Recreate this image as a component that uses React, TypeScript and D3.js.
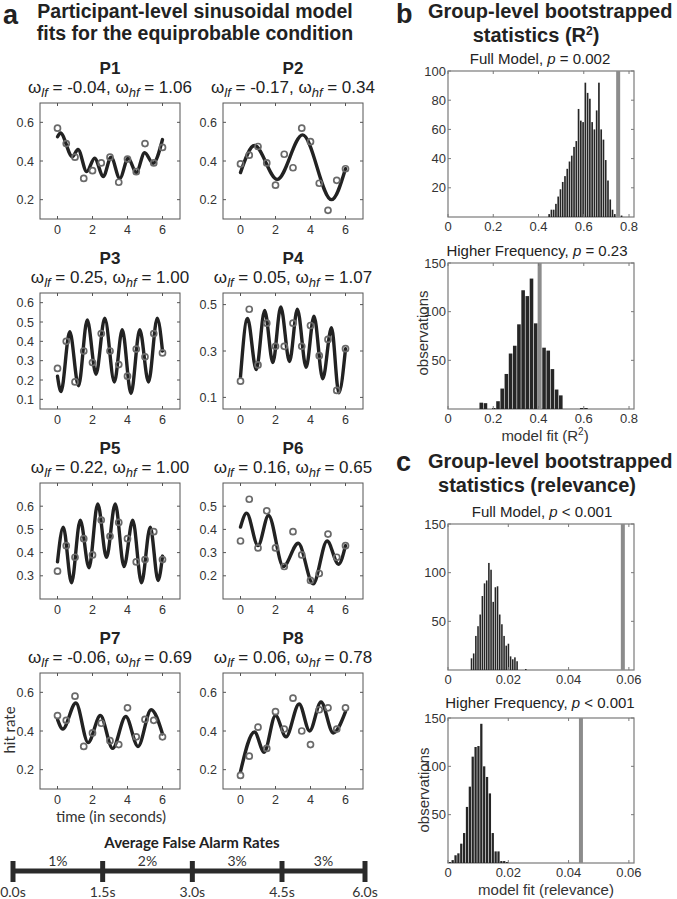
import React from 'react';
import * as d3 from 'd3';

// ---------- data: participant panels ----------
const TIMES = [0, 0.5, 1, 1.5, 2, 2.5, 3, 3.5, 4, 4.5, 5, 5.5, 6];
const X_TICKS = [0, 2, 4, 6];

const P1_HIT = [0.57, 0.49, 0.42, 0.31, 0.35, 0.39, 0.42, 0.29, 0.41, 0.345, 0.49, 0.39, 0.47];
const P1_FIT_T = [0, 0.17, 0.85, 1.17, 1.67, 2.12, 2.62, 3.06, 3.56, 4.04, 4.5, 4.98, 5.46, 6.0];
const P1_FIT_V = [0.525, 0.545, 0.422, 0.46, 0.345, 0.414, 0.32, 0.42, 0.31, 0.414, 0.34, 0.443, 0.388, 0.511];

const P2_HIT = [0.385, 0.43, 0.475, 0.39, 0.275, 0.435, 0.365, 0.57, 0.5, 0.285, 0.145, 0.3, 0.36];
const P2_FIT_T = [0, 0.8, 2.1, 3.55, 5.2, 6.0];
const P2_FIT_V = [0.34, 0.48, 0.305, 0.535, 0.2, 0.36];

const P3_HIT = [0.26, 0.4, 0.19, 0.35, 0.29, 0.44, 0.35, 0.28, 0.22, 0.36, 0.32, 0.44, 0.34];
const P3_FIT_T = [0, 0.2, 0.7, 1.2, 1.7, 2.2, 2.7, 3.25, 3.7, 4.2, 4.7, 5.2, 5.7, 6.0];
const P3_FIT_V = [0.22, 0.14, 0.45, 0.17, 0.51, 0.23, 0.52, 0.19, 0.46, 0.13, 0.46, 0.19, 0.52, 0.35];

const P4_HIT = [0.17, 0.48, 0.24, 0.42, 0.32, 0.32, 0.42, 0.32, 0.41, 0.28, 0.35, 0.13, 0.31];
const P4_FIT_T = [0, 0.4, 0.9, 1.38, 1.85, 2.3, 2.8, 3.25, 3.75, 4.2, 4.7, 5.2, 5.62, 6.0];
const P4_FIT_V = [0.19, 0.44, 0.22, 0.475, 0.25, 0.49, 0.255, 0.48, 0.23, 0.45, 0.18, 0.4, 0.12, 0.31];

const P5_HIT = [0.32, 0.43, 0.38, 0.46, 0.39, 0.54, 0.47, 0.53, 0.46, 0.36, 0.37, 0.49, 0.37];
const P5_FIT_T = [0, 0.33, 0.8, 1.3, 1.8, 2.3, 2.8, 3.3, 3.8, 4.3, 4.8, 5.3, 5.75, 6.0];
const P5_FIT_V = [0.36, 0.51, 0.27, 0.54, 0.335, 0.61, 0.38, 0.61, 0.34, 0.54, 0.27, 0.51, 0.28, 0.385];

const P6_HIT = [0.35, 0.53, 0.32, 0.48, 0.32, 0.24, 0.39, 0.29, 0.18, 0.21, 0.38, 0.28, 0.33];
const P6_FIT_T = [0, 0.35, 1.0, 1.6, 2.45, 3.3, 4.15, 4.95, 5.6, 6.0];
const P6_FIT_V = [0.41, 0.47, 0.33, 0.46, 0.24, 0.34, 0.165, 0.35, 0.25, 0.33];

const P7_HIT = [0.48, 0.455, 0.58, 0.32, 0.39, 0.44, 0.35, 0.33, 0.52, 0.37, 0.46, 0.455, 0.37];
const P7_FIT_T = [0, 0.3, 1.05, 1.75, 2.45, 3.15, 3.9, 4.6, 5.35, 6.0];
const P7_FIT_V = [0.46, 0.41, 0.545, 0.34, 0.48, 0.31, 0.475, 0.32, 0.51, 0.385];

const P8_HIT = [0.17, 0.27, 0.42, 0.31, 0.5, 0.41, 0.57, 0.4, 0.33, 0.51, 0.52, 0.41, 0.52];
const P8_FIT_T = [0, 0.8, 1.35, 2.0, 2.6, 3.35, 3.95, 4.6, 5.3, 6.0];
const P8_FIT_V = [0.19, 0.395, 0.29, 0.48, 0.37, 0.54, 0.4, 0.55, 0.39, 0.5];

const P_NAMES = ['P1', 'P2', 'P3', 'P4', 'P5', 'P6', 'P7', 'P8'];
const W_LF = ['-0.04', '-0.17', '0.25', '0.05', '0.22', '0.16', '-0.06', '0.06'];
const W_HF = ['1.06', '0.34', '1.00', '1.07', '1.00', '0.65', '0.69', '0.78'];
const Y_DOMAINS = [[0.1, 0.7], [0.1, 0.7], [0.05, 0.65], [0.05, 0.55], [0.2, 0.7], [0.1, 0.6], [0.1, 0.7], [0.1, 0.7]];
const Y_TICKS = [
  [0.2, 0.4, 0.6], [0.2, 0.4, 0.6], [0.1, 0.2, 0.3, 0.4, 0.5, 0.6], [0.1, 0.3, 0.5],
  [0.3, 0.4, 0.5, 0.6], [0.2, 0.3, 0.4, 0.5], [0.2, 0.4, 0.6], [0.2, 0.4, 0.6],
];
const HITS = [P1_HIT, P2_HIT, P3_HIT, P4_HIT, P5_HIT, P6_HIT, P7_HIT, P8_HIT];
const FIT_T = [P1_FIT_T, P2_FIT_T, P3_FIT_T, P4_FIT_T, P5_FIT_T, P6_FIT_T, P7_FIT_T, P8_FIT_T];
const FIT_V = [P1_FIT_V, P2_FIT_V, P3_FIT_V, P4_FIT_V, P5_FIT_V, P6_FIT_V, P7_FIT_V, P8_FIT_V];

// ---------- data: timeline ----------
const TL_TIMES = [0, 1.5, 3, 4.5, 6];
const TL_LABELS = ['0.0s', '1.5s', '3.0s', '4.5s', '6.0s'];
const FA_RATES = ['1%', '2%', '3%', '3%'];

// ---------- data: histograms ----------
const B_FULL_START = 0.447, B_FULL_STEP = 0.01;
const B_FULL_COUNTS = [2, 5, 5, 9, 14, 19, 24, 28, 33, 38, 42, 48, 52, 74, 66, 65, 92, 85, 81, 65, 60, 73, 92, 60, 53, 39, 25, 12, 5, 2, 0, 0, 1];
const B_FULL_OBS = 0.752;

const B_HF_START = 0.147, B_HF_STEP = 0.0185;
const B_HF_COUNTS = [6.5, 6, 0, 1, 8, 21, 36, 57, 65, 87, 122, 116, 134, 88, 0, 63, 60, 41, 20, 14, 0, 0, 0, 0, 1, 1];
const B_HF_OBS = 0.405;

const C_FULL_START = 0.0078, C_FULL_STEP = 0.00072;
const C_FULL_COUNTS = [12, 17, 35, 45, 57, 76, 89, 92, 110, 103, 70, 85, 86, 57, 47, 35, 25, 27, 14, 11, 13, 9, 0, 0, 0, 1];
const C_FULL_OBS = 0.058;

const C_HF_START = 0.0006, C_HF_STEP = 0.00095;
const C_HF_COUNTS = [1, 3, 8, 10, 20, 31, 58, 79, 110, 120, 121, 144, 100, 89, 72, 31, 12, 12, 2, 2, 1];
const C_HF_OBS = 0.0441;

const B_X_TICKS = [0, 0.2, 0.4, 0.6, 0.8];
const C_X_TICKS = [0, 0.02, 0.04, 0.06];

// ---------- styles ----------
const SANS = "'Liberation Sans', Arial, Helvetica, sans-serif";
const HUM = "Lato, 'Open Sans', sans-serif";
const INK = '#222';

function Participant({ idx }: { idx: number }) {
  const col = idx % 2;
  const row = Math.floor(idx / 2);
  const x0 = col === 0 ? 40 : 223;
  const y0 = 103 + row * 190;
  const w = 140, h = 116;
  const x = d3.scaleLinear().domain([-1, 7]).range([x0, x0 + w]);
  const y = d3.scaleLinear().domain(Y_DOMAINS[idx]).range([y0 + h, y0]);
  const pts: [number, number][] = FIT_T[idx].map((t, i) => [t, FIT_V[idx][i]]);
  const line = d3.line<[number, number]>().x(d => x(d[0])).y(d => y(d[1])).curve(d3.curveMonotoneX);
  const cx = x0 + w / 2;
  const tl = 3;
  return (
    <g>
      <text x={cx} y={y0 - 29} textAnchor="middle" fontFamily={SANS} fontWeight="bold" fontSize={17} fill={INK}>{P_NAMES[idx]}</text>
      <text x={cx} y={y0 - 10} textAnchor="middle" fontFamily={SANS} fontSize={17} fill={INK}>
        ω<tspan fontStyle="italic" fontSize={13} dy={4}>lf</tspan>
        <tspan dy={-4}>{` = ${W_LF[idx]}, ω`}</tspan>
        <tspan fontStyle="italic" fontSize={13} dy={4}>hf</tspan>
        <tspan dy={-4}>{` = ${W_HF[idx]}`}</tspan>
      </text>
      <rect x={x0} y={y0} width={w} height={h} fill="white" stroke="#555" strokeWidth={1} />
      {X_TICKS.map(t => (
        <g key={'xt' + t}>
          <line x1={x(t)} x2={x(t)} y1={y0 + h} y2={y0 + h - tl} stroke="#555" />
          <line x1={x(t)} x2={x(t)} y1={y0} y2={y0 + tl} stroke="#555" />
          <text x={x(t)} y={y0 + h + 15} textAnchor="middle" fontFamily={SANS} fontSize={12.5} fill="#333">{t}</text>
        </g>
      ))}
      {Y_TICKS[idx].map(v => (
        <g key={'yt' + v}>
          <line x1={x0} x2={x0 + tl} y1={y(v)} y2={y(v)} stroke="#555" />
          <line x1={x0 + w} x2={x0 + w - tl} y1={y(v)} y2={y(v)} stroke="#555" />
          <text x={x0 - 6} y={y(v) + 4.5} textAnchor="end" fontFamily={SANS} fontSize={12.5} fill="#333">{v.toFixed(1)}</text>
        </g>
      ))}
      <path d={line(pts) || ''} fill="none" stroke={INK} strokeWidth={3.4} strokeLinecap="round" />
      {HITS[idx].map((v, i) => (
        <circle key={i} cx={x(TIMES[i])} cy={y(v)} r={3} fill="none" stroke="#6a6a6a" strokeWidth={1.7} />
      ))}
    </g>
  );
}

type HistProps = {
  box: [number, number, number, number];
  xMax: number; xTicks: number[]; xFmt: (v: number) => string;
  yMax: number; yTicks: number[];
  start: number; step: number; counts: number[]; obs: number;
  subtitle: React.ReactNode; subX: number; subY: number;
};

function Hist(p: HistProps) {
  const [x0, y0, x1, y1] = p.box;
  const x = d3.scaleLinear().domain([0, p.xMax]).range([x0, x1]);
  const y = d3.scaleLinear().domain([0, p.yMax]).range([y1, y0]);
  const bw = x(p.step) - x(0);
  const tl = 3;
  return (
    <g>
      <text x={p.subX} y={p.subY} textAnchor="middle" fontFamily={SANS} fontSize={15} fill={INK}>{p.subtitle}</text>
      <rect x={x0} y={y0} width={x1 - x0} height={y1 - y0} fill="white" stroke="#7a7a7a" strokeWidth={1.2} />
      {p.counts.map((c, i) => {
        if (c <= 0) return null;
        const cx = x(p.start + i * p.step);
        return <rect key={i} x={cx - bw / 2 + 0.3} width={Math.max(bw - 0.6, 0.8)} y={y(c)} height={y(0) - y(c)} fill="#262626" />;
      })}
      <line x1={x(p.obs)} x2={x(p.obs)} y1={y0} y2={y1} stroke="#8c8c8c" strokeWidth={4} />
      {p.xTicks.map(t => (
        <g key={'xt' + t}>
          <line x1={x(t)} x2={x(t)} y1={y1} y2={y1 - tl} stroke="#7a7a7a" />
          <line x1={x(t)} x2={x(t)} y1={y0} y2={y0 + tl} stroke="#7a7a7a" />
          <text x={x(t)} y={y1 + 14} textAnchor="middle" fontFamily={SANS} fontSize={13} fill="#333">{p.xFmt(t)}</text>
        </g>
      ))}
      {p.yTicks.map(v => (
        <g key={'yt' + v}>
          <line x1={x0} x2={x0 + tl} y1={y(v)} y2={y(v)} stroke="#7a7a7a" />
          <line x1={x1} x2={x1 - tl} y1={y(v)} y2={y(v)} stroke="#7a7a7a" />
          <text x={x0 - 2} y={y(v) + 4.5} textAnchor="end" fontFamily={SANS} fontSize={13} fill="#333">{v}</text>
        </g>
      ))}
    </g>
  );
}

function Timeline() {
  const x = d3.scaleLinear().domain([0, 4.5, 6]).range([13, 282, 365]);
  const yl = 871;
  return (
    <g>
      <text x={192} y={848} textAnchor="middle" fontFamily={HUM} fontWeight="bold" fontSize={15} fill={INK}>Average False Alarm Rates</text>
      <line x1={x(0)} x2={x(6)} y1={yl} y2={yl} stroke="#2a2a2a" strokeWidth={5} />
      {TL_TIMES.map((t, i) => (
        <g key={t}>
          <line x1={x(t)} x2={x(t)} y1={yl - 10} y2={yl + 11} stroke="#2a2a2a" strokeWidth={5} />
          <text x={x(t)} y={897} textAnchor="middle" fontFamily={HUM} fontSize={14} fill="#333">{TL_LABELS[i]}</text>
        </g>
      ))}
      {FA_RATES.map((r, i) => (
        <text key={i} x={(x(TL_TIMES[i]) + x(TL_TIMES[i + 1])) / 2} y={866} textAnchor="middle" fontFamily={HUM} fontSize={14} fill="#333">{r}</text>
      ))}
    </g>
  );
}

export default function App() {
  const fmtB = (v: number) => (v === 0 ? '0' : String(v));
  const fmtC = (v: number) => (v === 0 ? '0' : v.toFixed(2));
  return (
    <svg width={677} height={899} style={{ position: 'absolute', left: 0, top: 0, background: 'white' }}>
      <rect width={677} height={899} fill="white" />
      {/* panel a */}
      <text x={3} y={24} fontFamily={SANS} fontWeight="bold" fontSize={27} fill={INK}>a</text>
      <text x={195} y={18} textAnchor="middle" fontFamily={SANS} fontWeight="bold" fontSize={19.5} fill={INK}>Participant-level sinusoidal model</text>
      <text x={195} y={40} textAnchor="middle" fontFamily={SANS} fontWeight="bold" fontSize={19.5} fill={INK}>fits for the equiprobable condition</text>
      {P_NAMES.map((_, i) => <Participant key={i} idx={i} />)}
      <text transform="translate(15,730) rotate(-90)" textAnchor="middle" fontFamily={HUM} fontSize={15} fill="#333">hit rate</text>
      <text x={111} y={822} textAnchor="middle" fontFamily={HUM} fontSize={15} fill="#333">time (in seconds)</text>
      <Timeline />

      {/* panel b */}
      <text x={396} y={23} fontFamily={SANS} fontWeight="bold" fontSize={27} fill={INK}>b</text>
      <text x={428} y={18} fontFamily={SANS} fontWeight="bold" fontSize={20} fill={INK}>Group-level bootstrapped</text>
      <text x={536} y={42} textAnchor="middle" fontFamily={SANS} fontWeight="bold" fontSize={20} fill={INK}>
        statistics (R<tspan fontSize={12} dy={-7}>2</tspan><tspan dy={7}>)</tspan>
      </text>
      <Hist box={[448, 71, 634, 217]} xMax={0.822} xTicks={B_X_TICKS} xFmt={fmtB} yMax={100} yTicks={[20, 40, 60, 80, 100]}
        start={B_FULL_START} step={B_FULL_STEP} counts={B_FULL_COUNTS} obs={B_FULL_OBS}
        subtitle={<>Full Model, <tspan fontStyle="italic">p</tspan> = 0.002</>} subX={540} subY={64} />
      <Hist box={[448, 263, 634, 409]} xMax={0.822} xTicks={B_X_TICKS} xFmt={fmtB} yMax={150} yTicks={[50, 100, 150]}
        start={B_HF_START} step={B_HF_STEP} counts={B_HF_COUNTS} obs={B_HF_OBS}
        subtitle={<>Higher Frequency, <tspan fontStyle="italic">p</tspan> = 0.23</>} subX={537} subY={256} />
      <text transform="translate(428,333) rotate(-90)" textAnchor="middle" fontFamily={SANS} fontSize={15} fill="#333">observations</text>
      <text x={545} y={441} textAnchor="middle" fontFamily={SANS} fontSize={15} fill="#333">
        model fit (R<tspan fontSize={10} dy={-6}>2</tspan><tspan dy={6}>)</tspan>
      </text>

      {/* panel c */}
      <text x={396} y={471} fontFamily={SANS} fontWeight="bold" fontSize={27} fill={INK}>c</text>
      <text x={428} y={468} fontFamily={SANS} fontWeight="bold" fontSize={20} fill={INK}>Group-level bootstrapped</text>
      <text x={537} y={492} textAnchor="middle" fontFamily={SANS} fontWeight="bold" fontSize={20} fill={INK}>statistics (relevance)</text>
      <Hist box={[448, 524, 634, 670]} xMax={0.0617} xTicks={C_X_TICKS} xFmt={fmtC} yMax={150} yTicks={[50, 100, 150]}
        start={C_FULL_START} step={C_FULL_STEP} counts={C_FULL_COUNTS} obs={C_FULL_OBS}
        subtitle={<>Full Model, <tspan fontStyle="italic">p</tspan> &lt; 0.001</>} subX={542} subY={517} />
      <Hist box={[448, 718, 634, 863]} xMax={0.0617} xTicks={C_X_TICKS} xFmt={fmtC} yMax={150} yTicks={[50, 100, 150]}
        start={C_HF_START} step={C_HF_STEP} counts={C_HF_COUNTS} obs={C_HF_OBS}
        subtitle={<>Higher Frequency, <tspan fontStyle="italic">p</tspan> &lt; 0.001</>} subX={540} subY={708} />
      <text transform="translate(429,790) rotate(-90)" textAnchor="middle" fontFamily={SANS} fontSize={15} fill="#333">observations</text>
      <text x={546} y={895} textAnchor="middle" fontFamily={SANS} fontSize={15} fill="#333">model fit (relevance)</text>
    </svg>
  );
}
